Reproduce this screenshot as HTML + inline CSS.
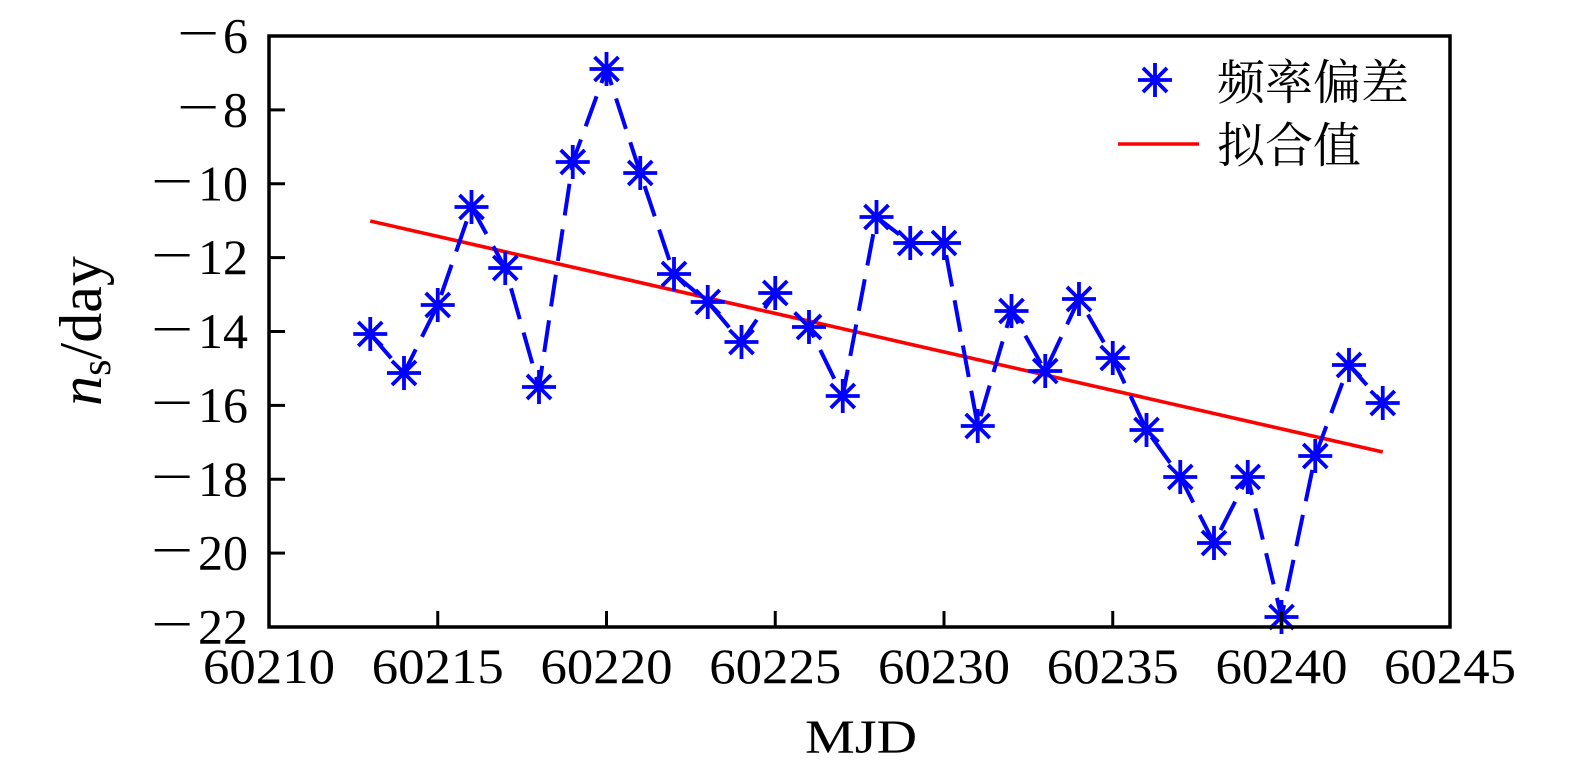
<!DOCTYPE html>
<html>
<head>
<meta charset="utf-8">
<style>
html,body{margin:0;padding:0;background:#fff;}
svg{display:block;}
text{font-family:"Liberation Serif","Noto Serif CJK SC",serif;fill:#000;}
.cjk{font-family:"Liberation Serif","Noto Serif CJK SC","Noto Sans CJK SC",serif;}
</style>
</head>
<body>
<svg width="1575" height="778" viewBox="0 0 1575 778" xmlns="http://www.w3.org/2000/svg">
<defs>
<g id="st" stroke="#0000ff" stroke-width="3.8" fill="none" stroke-linecap="butt">
<path d="M-17 0H17M0 -17V17M-12 -12L12 12M-12 12L12 -12"/>
</g>
</defs>
<rect width="1575" height="778" fill="#fff"/>

<!-- fit line -->
<line x1="370.25" y1="221" x2="1382.75" y2="452" stroke="#ff0000" stroke-width="3.6"/>

<!-- data dashed line -->
<polyline fill="none" stroke="#0000ff" stroke-width="4" stroke-dasharray="32 14"
points="370.25,334 404,373 437.75,305 471.5,207 505.25,268 539,387 572.75,162 606.5,69 640.25,173 674,274 707.75,302 741.5,342 775.25,293 809,327 842.75,396 876.5,217 910.25,243 944,243 977.75,426 1011.5,311 1045.25,371 1079,299 1112.75,358 1146.5,430 1180.25,477 1214,543 1247.75,477 1281.5,617 1315.25,456 1349,365 1382.75,403"/>

<!-- markers -->
<use href="#st" x="370.25" y="334"/>
<use href="#st" x="404" y="373"/>
<use href="#st" x="437.75" y="305"/>
<use href="#st" x="471.5" y="207"/>
<use href="#st" x="505.25" y="268"/>
<use href="#st" x="539" y="387"/>
<use href="#st" x="572.75" y="162"/>
<use href="#st" x="606.5" y="69"/>
<use href="#st" x="640.25" y="173"/>
<use href="#st" x="674" y="274"/>
<use href="#st" x="707.75" y="302"/>
<use href="#st" x="741.5" y="342"/>
<use href="#st" x="775.25" y="293"/>
<use href="#st" x="809" y="327"/>
<use href="#st" x="842.75" y="396"/>
<use href="#st" x="876.5" y="217"/>
<use href="#st" x="910.25" y="243"/>
<use href="#st" x="944" y="243"/>
<use href="#st" x="977.75" y="426"/>
<use href="#st" x="1011.5" y="311"/>
<use href="#st" x="1045.25" y="371"/>
<use href="#st" x="1079" y="299"/>
<use href="#st" x="1112.75" y="358"/>
<use href="#st" x="1146.5" y="430"/>
<use href="#st" x="1180.25" y="477"/>
<use href="#st" x="1214" y="543"/>
<use href="#st" x="1247.75" y="477"/>
<use href="#st" x="1281.5" y="617"/>
<use href="#st" x="1315.25" y="456"/>
<use href="#st" x="1349" y="365"/>
<use href="#st" x="1382.75" y="403"/>

<!-- axes box -->
<rect x="269" y="36" width="1181" height="591" fill="none" stroke="#000" stroke-width="3.5"/>

<!-- ticks -->
<g stroke="#000" stroke-width="3">
<line x1="269" y1="109.9" x2="285" y2="109.9"/>
<line x1="269" y1="183.75" x2="285" y2="183.75"/>
<line x1="269" y1="257.6" x2="285" y2="257.6"/>
<line x1="269" y1="331.5" x2="285" y2="331.5"/>
<line x1="269" y1="405.4" x2="285" y2="405.4"/>
<line x1="269" y1="479.25" x2="285" y2="479.25"/>
<line x1="269" y1="553.1" x2="285" y2="553.1"/>
<line x1="437.75" y1="627" x2="437.75" y2="611"/>
<line x1="606.5" y1="627" x2="606.5" y2="611"/>
<line x1="775.25" y1="627" x2="775.25" y2="611"/>
<line x1="944" y1="627" x2="944" y2="611"/>
<line x1="1112.75" y1="627" x2="1112.75" y2="611"/>
<line x1="1281.5" y1="627" x2="1281.5" y2="611"/>
</g>

<!-- y tick labels -->
<g font-size="50">
<text x="248" y="52.5" text-anchor="end">6</text>
<text x="248" y="126.4" text-anchor="end">8</text>
<text x="248" y="200.3" text-anchor="end">10</text>
<text x="248" y="274.1" text-anchor="end">12</text>
<text x="248" y="348" text-anchor="end">14</text>
<text x="248" y="421.9" text-anchor="end">16</text>
<text x="248" y="495.8" text-anchor="end">18</text>
<text x="248" y="569.6" text-anchor="end">20</text>
<text x="248" y="643.5" text-anchor="end">22</text>
<text transform="translate(177,50) scale(1.5,1)">−</text>
<text transform="translate(177,124) scale(1.5,1)">−</text>
<text transform="translate(151,198) scale(1.5,1)">−</text>
<text transform="translate(151,272) scale(1.5,1)">−</text>
<text transform="translate(151,346) scale(1.5,1)">−</text>
<text transform="translate(151,419.5) scale(1.5,1)">−</text>
<text transform="translate(151,493.5) scale(1.5,1)">−</text>
<text transform="translate(151,567) scale(1.5,1)">−</text>
<text transform="translate(151,641) scale(1.5,1)">−</text>
</g>

<!-- x tick labels -->
<g font-size="50" text-anchor="middle">
<text x="269" y="683" textLength="132" lengthAdjust="spacingAndGlyphs">60210</text>
<text x="437.75" y="683" textLength="132" lengthAdjust="spacingAndGlyphs">60215</text>
<text x="606.5" y="683" textLength="132" lengthAdjust="spacingAndGlyphs">60220</text>
<text x="775.25" y="683" textLength="132" lengthAdjust="spacingAndGlyphs">60225</text>
<text x="944" y="683" textLength="132" lengthAdjust="spacingAndGlyphs">60230</text>
<text x="1112.75" y="683" textLength="132" lengthAdjust="spacingAndGlyphs">60235</text>
<text x="1281.5" y="683" textLength="132" lengthAdjust="spacingAndGlyphs">60240</text>
<text x="1450" y="683" textLength="132" lengthAdjust="spacingAndGlyphs">60245</text>
</g>

<!-- x label -->
<text x="861" y="753" font-size="48" text-anchor="middle" textLength="112" lengthAdjust="spacingAndGlyphs">MJD</text>

<!-- y label -->
<g transform="translate(101,331) rotate(-90)">
<text x="0" y="0" font-size="60" text-anchor="middle"><tspan font-style="italic">n</tspan><tspan font-size="42" dy="9">s</tspan><tspan dy="-9">/day</tspan></text>
</g>

<!-- legend -->
<use href="#st" x="1155" y="80"/>
<line x1="1118" y1="144" x2="1199" y2="144" stroke="#ff0000" stroke-width="3.6"/>
<text class="cjk" x="1217" y="99" font-size="48">频率偏差</text>
<text class="cjk" x="1217" y="162" font-size="48">拟合值</text>
</svg>
</body>
</html>
